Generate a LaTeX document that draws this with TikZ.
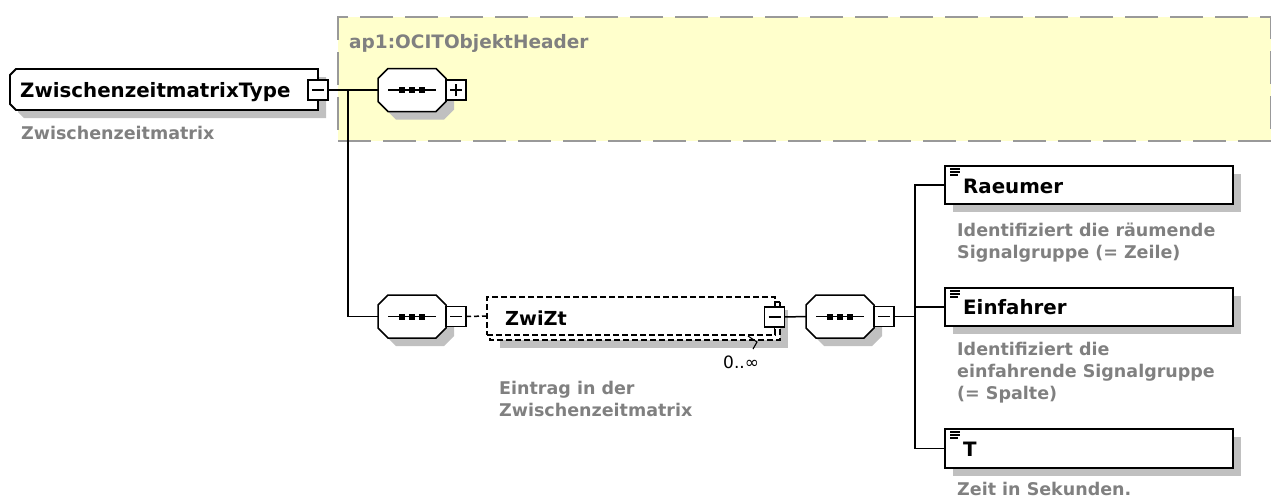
\documentclass[tikz,border=0pt]{standalone}
\usepackage{fontspec}
\setmainfont{DejaVu Sans}
\usetikzlibrary{shadows}
\definecolor{shadowgray}{HTML}{C0C0C0}
\definecolor{descgray}{HTML}{808080}
\definecolor{yellowbg}{HTML}{FFFFCC}
\definecolor{bordergray}{HTML}{999999}
\tikzset{
  shad/.style={drop shadow={shadow xshift=8pt,shadow yshift=-8pt,fill=shadowgray,opacity=1}},
  elembox/.style={draw,line width=1.8pt,fill=white,inner sep=0pt,outer sep=0pt,anchor=north west,shad},
  octonode/.style={inner sep=0pt,outer sep=0pt,minimum width=68pt,minimum height=43pt},
  octoline/.style={draw,line width=1.5pt,fill=white,shad},
  tog/.style={draw,line width=1.5pt,fill=white,inner sep=0pt,outer sep=0pt,minimum size=20pt},
  togline/.style={line width=1.5pt},
  conn/.style={line width=1.5pt},
  dconn/.style={line width=1.5pt,dash pattern=on 5pt off 3pt},
  namefont/.style={font=\fontsize{19.8}{23}\selectfont\bfseries,inner sep=0pt,anchor=base west},
  descfont/.style={font=\fontsize{17.5}{22}\selectfont\bfseries,text=descgray,inner sep=0pt,align=left},
  seqdots/.pic={
    \draw[line width=1.5pt] (-24pt,0) -- (24pt,0);
    \foreach \dx in {-10,0,10} {\fill ([shift={(\dx pt,0)}]-3pt,-3pt) rectangle ++(6pt,6pt);}
  },
  elemicon/.pic={
    \draw[line width=1.1pt] (0,0) -- (10pt,0) (0,-3pt) -- (10pt,-3pt) (0,-6pt) -- (8pt,-6pt);
  }
}
\newcommand\octoshape[3]{%
  \path[#3] ([xshift=#2]#1.north west) -- ([xshift=-#2]#1.north east) -- ([yshift=-#2]#1.north east)
    -- ([yshift=#2]#1.south east) -- ([xshift=-#2]#1.south east) -- ([xshift=#2]#1.south west)
    -- ([yshift=#2]#1.south west) -- ([yshift=-#2]#1.north west) -- cycle;}
\begin{document}
\begin{tikzpicture}[x=1pt,y=-1pt]
\useasboundingbox (0,0) rectangle (1271,499);
% header group
\node[draw=bordergray,line width=2pt,dash pattern=on 33pt off 12pt,fill=yellowbg,
  minimum width=933pt,minimum height=124pt,anchor=north west,inner sep=0pt] (hdr) at (337,16) {};
\node[font=\fontsize{18.5}{22}\selectfont\bfseries,text=descgray,inner sep=0pt,anchor=base west] (hdrtitle) at (349,48) {ap1:OCITObjektHeader};

% root element
\node[inner sep=0pt,outer sep=0pt,minimum width=308pt,minimum height=41pt,anchor=west] (zt) at (10,89.5) {};
\path[draw,line width=1.8pt,fill=white,shad] ([xshift=6pt]zt.north west) -- (zt.north east) -- (zt.south east)
  -- ([xshift=6pt]zt.south west) -- ([yshift=6pt]zt.south west) -- ([yshift=-6pt]zt.north west) -- cycle;
\node[namefont] (ztname) at (20,97) {ZwischenzeitmatrixType};
\node[tog] (ztm) at (318,90) {};
\draw[togline] ([xshift=-6pt]ztm.center) -- ([xshift=6pt]ztm.center);
\node[descfont,anchor=base west] (ztdesc) at (21,139) {Zwischenzeitmatrix};

% sequence 1 (header)
\node[octonode] (seq1) at (412,90) {};
\octoshape{seq1}{10pt}{octoline}
\pic at (seq1.center) {seqdots};
\node[tog,anchor=west] (seq1p) at (seq1.east) {};
\draw[togline] ([xshift=-6pt]seq1p.center) -- ([xshift=6pt]seq1p.center)
  ([yshift=-6pt]seq1p.center) -- ([yshift=6pt]seq1p.center);

% sequence 2
\node[octonode] (seq2) at (412,316.5) {};
\octoshape{seq2}{10pt}{octoline}
\pic at (seq2.center) {seqdots};
\node[tog,anchor=west] (seq2m) at (seq2.east) {};
\draw[togline] ([xshift=-6pt]seq2m.center) -- ([xshift=6pt]seq2m.center);

% connectors root
\coordinate (j1) at (348,90);
\draw[conn] (ztm.east) -- (seq1.west);
\draw[conn] (j1) |- (seq2.west);

% ZwiZt element (repeated)
\fill[shadowgray] (500,310) rectangle (788,348);
\draw[line width=1.5pt,dash pattern=on 6pt off 3pt,fill=white] (490,302) rectangle (780,340);
\node[draw,line width=1.5pt,dash pattern=on 6pt off 3pt,fill=white,inner sep=0pt,outer sep=0pt,
  minimum width=288pt,minimum height=38pt,anchor=north west] (zw) at (487,297) {};
\draw[line width=1.1pt] (748,336) -- (757,342) -- (753,349);
\node[namefont,font=\fontsize{19.3}{23}\selectfont\bfseries] (zwname) at (505,325) {ZwiZt};
\node[tog] (zwm) at (774.5,317) {};
\draw[togline] ([xshift=-6pt]zwm.center) -- ([xshift=6pt]zwm.center);
\draw[togline] (zwm.north) -- ++(0,-5) -- ++(5,0);
\draw[togline] (zwm.south) -- ++(0,5);
\node[font=\fontsize{17}{20}\selectfont,inner sep=0pt,anchor=base west] (zwmult) at (723,368) {0..∞};
\node[descfont,anchor=north west] (zwdesc) at (499,380.7) {Eintrag in der\\Zwischenzeitmatrix};
\draw[dconn] (seq2m.east) -- (zw.west);

% sequence 3
\node[octonode] (seq3) at (840,316.5) {};
\octoshape{seq3}{10pt}{octoline}
\pic at (seq3.center) {seqdots};
\node[tog,anchor=west] (seq3m) at (seq3.east) {};
\draw[togline] ([xshift=-6pt]seq3m.center) -- ([xshift=6pt]seq3m.center);
\draw[conn] (zwm.east) -- (seq3.west);

% child elements
\node[elembox,minimum width=288pt,minimum height=38pt] (raeumer) at (945,166) {};
\pic at (950,169) {elemicon};
\node[namefont] (raeumername) at (963,193) {Raeumer};
\node[descfont,anchor=north west] (raeumerdesc) at (957,222.7) {Identifiziert die räumende\\Signalgruppe (= Zeile)};

\node[elembox,minimum width=288pt,minimum height=38pt] (einf) at (945,288) {};
\pic at (950,291) {elemicon};
\node[namefont] (einfname) at (963,314) {Einfahrer};
\node[descfont,anchor=north west] (einfdesc) at (957,341.7) {Identifiziert die\\einfahrende Signalgruppe\\(= Spalte)};

\node[elembox,minimum width=288pt,minimum height=39pt] (tel) at (945,429) {};
\pic at (950,432) {elemicon};
\node[namefont] (tname) at (963,456) {T};
\node[descfont,anchor=base west] (tdesc) at (957,495) {Zeit in Sekunden.};

% connectors to children
\coordinate (j2) at (915,316.5);
\draw[conn] (seq3m.east) -- (j2);
\draw[conn] (raeumer.west) -| (j2);
\draw[conn] (einf.west) -| (j2);
\draw[conn] (tel.west) -| (j2);
\end{tikzpicture}
\end{document}
